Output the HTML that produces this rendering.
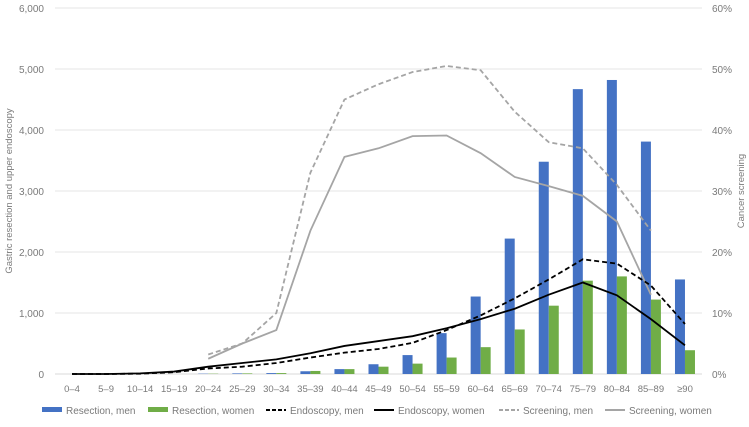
<!DOCTYPE html>
<html><head><meta charset="utf-8"><style>
body{margin:0;background:#fff;font-family:"Liberation Sans","Noto Sans CJK JP",sans-serif}
svg text{font-family:"Liberation Sans","Noto Sans CJK JP",sans-serif;fill:#7a7a7a}
</style></head><body>
<svg id="c" width="749" height="422"></svg>
<script>
const categories=["0–4","5–9","10–14","15–19","20–24","25–29","30–34","35–39","40–44","45–49","50–54","55–59","60–64","65–69","70–74","75–79","80–84","85–89","≥90"];
const resectionMen=[0,0,0,0,5,10,15,45,80,160,310,670,1270,2220,3480,4670,4820,3810,1550];
const resectionWomen=[0,0,0,0,5,10,15,50,80,120,170,270,440,730,1120,1530,1600,1220,390];
const endoMen=[0,0,5,30,90,120,180,270,350,410,510,720,960,1240,1550,1880,1810,1450,820];
const endoWomen=[0,0,10,40,120,180,240,340,460,540,620,750,900,1070,1300,1500,1290,900,470];
const screenMen=[null,null,null,null,3.2,5,10,33,45,47.5,49.5,50.5,49.8,43,38,37,31,23.5,null];
const screenWomen=[null,null,null,null,2.5,5,7.2,23.5,35.6,37,39,39.1,36.2,32.3,30.8,29.2,25,13,null];
const leftTicks=[0,1000,2000,3000,4000,5000,6000];
const leftLabels=["0","1,000","2,000","3,000","4,000","5,000","6,000"];
const rightLabels=["0%","10%","20%","30%","40%","50%","60%"];
const X0=55,X1=702,Y0=374,Y1=8;
const bw=(X1-X0)/categories.length;
const xc=i=>X0+bw*(i+0.5);
const yL=v=>Y0-(v/6000)*(Y0-Y1);
const yR=v=>Y0-(v/60)*(Y0-Y1);
const svg=document.getElementById('c');const NS="http://www.w3.org/2000/svg";
function mk(t,a,p){const e=document.createElementNS(NS,t);for(const k in a)e.setAttribute(k,a[k]);(p||svg).appendChild(e);return e;}
leftTicks.forEach((v,i)=>{
 const g=mk('line',{x1:X0,x2:X1,y1:yL(v),y2:yL(v),stroke:i==0?'#d9d9d9':'#e6e6e6','stroke-width':1});
 
 
 const t=mk('text',{x:X0-11,y:yL(v)+4,'text-anchor':'end','font-size':10});t.textContent=leftLabels[i];
 
 
 const r=mk('text',{x:712,y:yL(v)+4,'text-anchor':'start','font-size':10});r.textContent=rightLabels[i];
 
 
});
categories.forEach((c,i)=>{
 const t=mk('text',{x:xc(i),y:392,'text-anchor':'middle','font-size':9.5});t.textContent=c;
 
 
 const b1=mk('rect',{x:xc(i)-10,y:yL(resectionMen[i]),width:10,height:Y0-yL(resectionMen[i]),fill:'#4472c4'});
 
 
 const b2=mk('rect',{x:xc(i),y:yL(resectionWomen[i]),width:10,height:Y0-yL(resectionWomen[i]),fill:'#70ad47'});
 
 
});
function line(arr,f,st,dash,w,name){
 const pts=[];arr.forEach((v,i)=>{if(v!=null)pts.push(xc(i)+','+f(v));});
 const p=mk('polyline',{points:pts.join(' '),fill:'none',stroke:st,'stroke-width':w,'stroke-dasharray':dash});
 
 
}
line(screenMen,yR,'#a5a5a5','5,3',1.8,'line-screening-men');
line(screenWomen,yR,'#a5a5a5','',1.8,'line-screening-women');
line(endoMen,yL,'#000','5,3',1.8,'line-endoscopy-men');
line(endoWomen,yL,'#000','',1.8,'line-endoscopy-women');
const yt=mk('text',{x:0,y:0,'font-size':9.5,'text-anchor':'middle',transform:'translate(12,191) rotate(-90)'});yt.textContent='Gastric resection and upper endoscopy';


const yr=mk('text',{x:0,y:0,'font-size':9.5,'text-anchor':'middle',transform:'translate(744,191) rotate(-90)'});yr.textContent='Cancer screening';


const leg=[["Resection, men",'rect','#4472c4','',42],["Resection, women",'rect','#70ad47','',148],["Endoscopy, men",'line','#000','4,2',266],["Endoscopy, women",'line','#000','',374],["Screening, men",'line','#a5a5a5','4,2',499],["Screening, women",'line','#a5a5a5','',605]];
leg.forEach(l=>{
 if(l[1]=='rect'){const r=mk('rect',{x:l[4],y:407,width:20,height:5,fill:l[2]});}
 else{const r=mk('line',{x1:l[4],x2:l[4]+20,y1:410,y2:410,stroke:l[2],'stroke-width':2,'stroke-dasharray':l[3]});}
 const t=mk('text',{x:l[4]+24,y:414,'font-size':10});t.textContent=l[0];
 
 
});
</script>
</body></html>
